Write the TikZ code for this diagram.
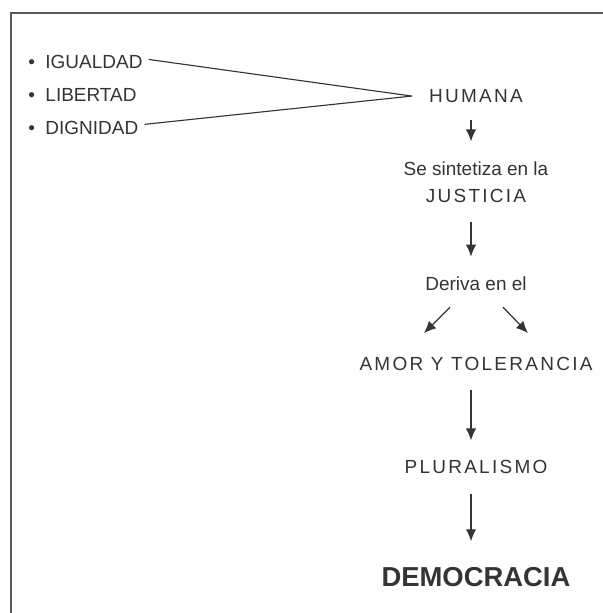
\documentclass[tikz,border=0pt]{standalone}
\usepackage{fontspec}
\setmainfont{Liberation Sans}
\newfontfamily\spaced[LetterSpace=12]{Liberation Sans}
\usepackage{tikz}
\usetikzlibrary{arrows.meta, positioning, calc}
\definecolor{myink}{RGB}{52,52,52}
\definecolor{myframe}{RGB}{90,90,90}
\tikzset{
  word/.style={anchor=base, inner sep=0pt, text=myink,
    font=\fontsize{13.5}{16}\selectfont},
  capword/.style={anchor=base, inner sep=0pt, text=myink,
    font=\fontsize{13.5}{16}\selectfont\spaced},
  item/.style={anchor=base west, inner sep=0pt, text=myink,
    font=\fontsize{13.5}{16}\selectfont},
  arrow/.style={-{Latex[length=3mm, width=2.6mm]}, line width=0.9pt,
    color=myink, shorten <=0.48cm, shorten >=0.5cm},
  line/.style={line width=0.8pt, color=myink}
}

\begin{document}
\begin{tikzpicture}
  \useasboundingbox (0,0) rectangle (15.075,15.325);

  % Frame (only top and left edges show)
  \draw[myframe, line width=2.1pt] (0.275,0) -- (0.275,15.0) -- (15.075,15.0);

  % Values on the left
  \node[item] (igual) at (0.7, 13.6) {\textbullet\ \ IGUALDAD};
  \node[item] (liber) at (0.7, 12.775) {\textbullet\ \ LIBERTAD};
  \node[item] (digni) at (0.7, 11.9625) {\textbullet\ \ DIGNIDAD};

  % Central column
  \node[capword] (humana) at (11.9, 12.7625) {HUMANA};
  \node[word] (sint) at (11.9, 10.9375) {Se sintetiza en la};
  \node[capword] (justicia) at (11.9, 10.2625) {JUSTICIA};
  \node[word] (deriva) at (11.9, 8.0575) {Deriva en el};
  \node[capword] (amor) at (11.9, 6.0575) {AMOR Y TOLERANCIA};
  \node[capword] (plural) at (11.9, 3.475) {PLURALISMO};
  \node[word, font=\fontsize{19.5}{22}\selectfont\bfseries] (demo) at (11.9, 0.6575) {DEMOCRACIA};

  % Connections
  \coordinate (meet) at ([xshift=-0.43cm]humana.west);
  \draw[line] ([xshift=0.15cm, yshift=0.075cm]igual.east) -- (meet);
  \draw[line] ([xshift=0.15cm, yshift=0.09cm]digni.east) -- (meet);

  \draw[arrow, shorten <=0.42cm] ([xshift=-1.25mm]humana.south) -- ([xshift=-1.25mm]sint.north);
  \draw[arrow] ([xshift=-1.25mm]justicia.south) -- ([xshift=-1.25mm]deriva.north);
  \draw[arrow, shorten <=0pt, shorten >=0pt] ([xshift=-0.65cm, yshift=-0.4cm]deriva.south) -- ([xshift=-1.3cm, yshift=0.6cm]amor.north);
  \draw[arrow, shorten <=0pt, shorten >=0pt] ([xshift=0.675cm, yshift=-0.4cm]deriva.south) -- ([xshift=1.3cm, yshift=0.6cm]amor.north);
  \draw[arrow] ([xshift=-1.25mm]amor.south) -- ([xshift=-1.25mm]plural.north);
  \draw[arrow, shorten >=0.65cm] ([xshift=-1.25mm]plural.south) -- ([xshift=-1.25mm]demo.north);
\end{tikzpicture}
\end{document}
